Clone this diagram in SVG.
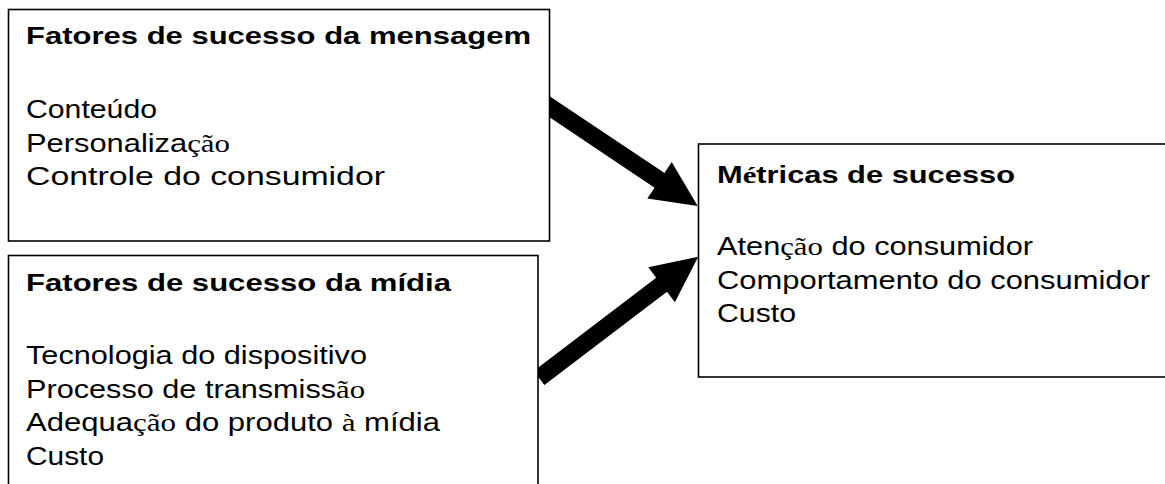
<svg xmlns="http://www.w3.org/2000/svg" width="1165" height="484" viewBox="0 0 1165 484">
<style>
.box{fill:#fff;stroke:#000;stroke-width:1.6}
.t{font-family:"Liberation Sans",Arial,sans-serif;font-weight:bold;font-size:24px;fill:#000}
.b{font-family:"Liberation Sans",Arial,sans-serif;font-size:26px;fill:#000}
.s{font-family:"Liberation Serif","Times New Roman",serif}
.arrow{fill:#000;stroke:none}
</style>
<rect width="1165" height="484" fill="#fff"/>
<g id="connectors">
<polygon class="arrow" points="548.9,95.7 664.5,172.9 671.7,162 697.7,205.9 647.3,198.6 654.6,187.7 539.1,110.3"/>
<polygon class="arrow" points="533.7,371 656.2,277.7 648.3,267.2 698.2,256.8 674.9,302.2 667,291.7 544.4,385"/>
</g>
<g id="node-mensagem">
<rect class="box" x="8.5" y="9.5" width="541" height="231.5"/>
<text class="t" x="26" y="44" textLength="505" lengthAdjust="spacingAndGlyphs">Fatores de sucesso da mensagem</text>
<text class="b" x="26" y="118" textLength="131" lengthAdjust="spacingAndGlyphs">Conteúdo</text>
<text class="b" x="26" y="151.5" textLength="204" lengthAdjust="spacingAndGlyphs">Personaliza<tspan class="s">ção</tspan></text>
<text class="b" x="26" y="185" textLength="359" lengthAdjust="spacingAndGlyphs">Controle do consumidor</text>
</g>
<g id="node-midia">
<rect class="box" x="8.5" y="255.5" width="529.5" height="250"/>
<text class="t" x="26" y="291" textLength="425" lengthAdjust="spacingAndGlyphs">Fatores de sucesso da mídia</text>
<text class="b" x="26" y="364" textLength="341" lengthAdjust="spacingAndGlyphs">Tecnologia do dispositivo</text>
<text class="b" x="26" y="397.5" textLength="339" lengthAdjust="spacingAndGlyphs">Processo de transmiss<tspan class="s">ão</tspan></text>
<text class="b" x="26" y="431" textLength="414" lengthAdjust="spacingAndGlyphs">Adequa<tspan class="s">ção</tspan> do produto <tspan class="s">à</tspan> mídia</text>
<text class="b" x="26" y="464.5" textLength="78" lengthAdjust="spacingAndGlyphs">Custo</text>
</g>
<g id="node-metricas">
<rect class="box" x="698.5" y="144" width="480" height="233"/>
<text class="t" x="717" y="183" textLength="298" lengthAdjust="spacingAndGlyphs">M<tspan class="s">é</tspan>tricas de sucesso</text>
<text class="b" x="717" y="255" textLength="316" lengthAdjust="spacingAndGlyphs">Aten<tspan class="s">ção</tspan> do consumidor</text>
<text class="b" x="717" y="288.5" textLength="433" lengthAdjust="spacingAndGlyphs">Comportamento do consumidor</text>
<text class="b" x="717" y="322" textLength="79" lengthAdjust="spacingAndGlyphs">Custo</text>
</g>
</svg>
